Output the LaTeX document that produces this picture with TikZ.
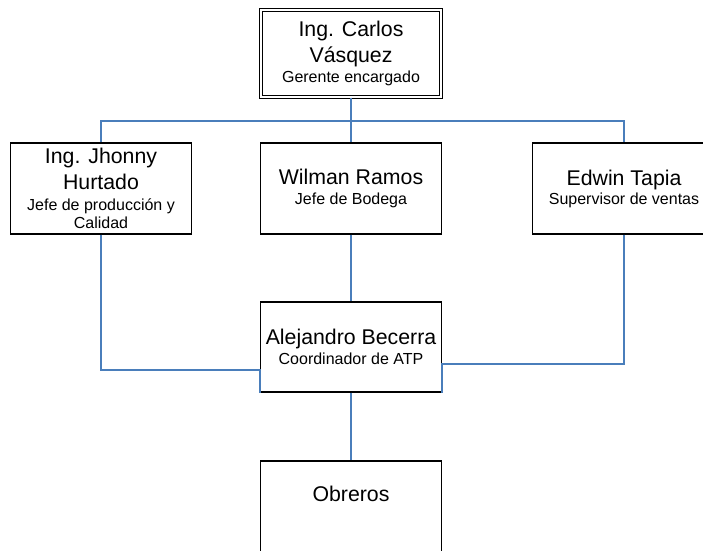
\documentclass[tikz,border=0pt]{standalone}
\usepackage{fontspec}
\setmainfont{Liberation Sans}
\newcommand{\nm}{\fontsize{21.3}{25.5}\selectfont}
\newcommand{\sbt}{\fontsize{16}{19}\selectfont}
\tikzset{
  orgbox/.style={draw=black, line width=1.3pt, fill=white, rectangle, align=center,
    font=\nm, minimum width=180.5pt, minimum height=91pt, inner sep=0pt},
  topbox/.style={orgbox, double=white, double distance=2pt, line width=1.1pt,
    minimum width=180pt, minimum height=87pt},
  conn/.style={draw={rgb,255:red,74;green,126;blue,187}, line width=1.6pt}
}
\begin{document}
\begin{tikzpicture}[x=1pt,y=-1pt]
\clip (0,0) rectangle (703,550);
\fill[white] (0,0) rectangle (703,550);

% boxes
\node[topbox] (top) at (351,53.5) {Ing. Carlos\\Vásquez\\[-5.5pt]\sbt Gerente encargado};
\node[orgbox] (jhonny) at (101,188.5) {Ing. Jhonny\\Hurtado\\[-4.5pt]\sbt Jefe de producción y\\[-7pt]\sbt Calidad};
\node[orgbox] (wilman) at (351,188.5) {Wilman Ramos\\[-5.5pt]\sbt Jefe de Bodega};
\node[orgbox, minimum width=183pt] (edwin) at (624,188.5) {Edwin Tapia\\[-6.5pt]\sbt Supervisor de ventas};
\node[orgbox, minimum height=90pt] (alej) at (351,347) {Alejandro Becerra\\[-6pt]\sbt Coordinador de ATP};
\node[orgbox] (obr) at (351,506.5) {Obreros\\[-5.5pt]\sbt\strut};

% connectors
\coordinate (bus) at (0,121);
\coordinate (ljoin) at (0,370);
\coordinate (rjoin) at (0,364);
\draw[conn] (top.south) -- (wilman.north);
\draw[conn] (jhonny.north) -- (jhonny.north |- bus) -- (edwin.north |- bus) -- (edwin.north);
\draw[conn] (wilman.south) -- (alej.north);
\draw[conn] (jhonny.south) -- (jhonny.south |- ljoin) -- (alej.west |- ljoin) -- (alej.south west);
\draw[conn] (edwin.south) -- (edwin.south |- rjoin) -- (alej.east |- rjoin) -- (alej.south east);
\draw[conn] (alej.south) -- (obr.north);
\end{tikzpicture}
\end{document}
